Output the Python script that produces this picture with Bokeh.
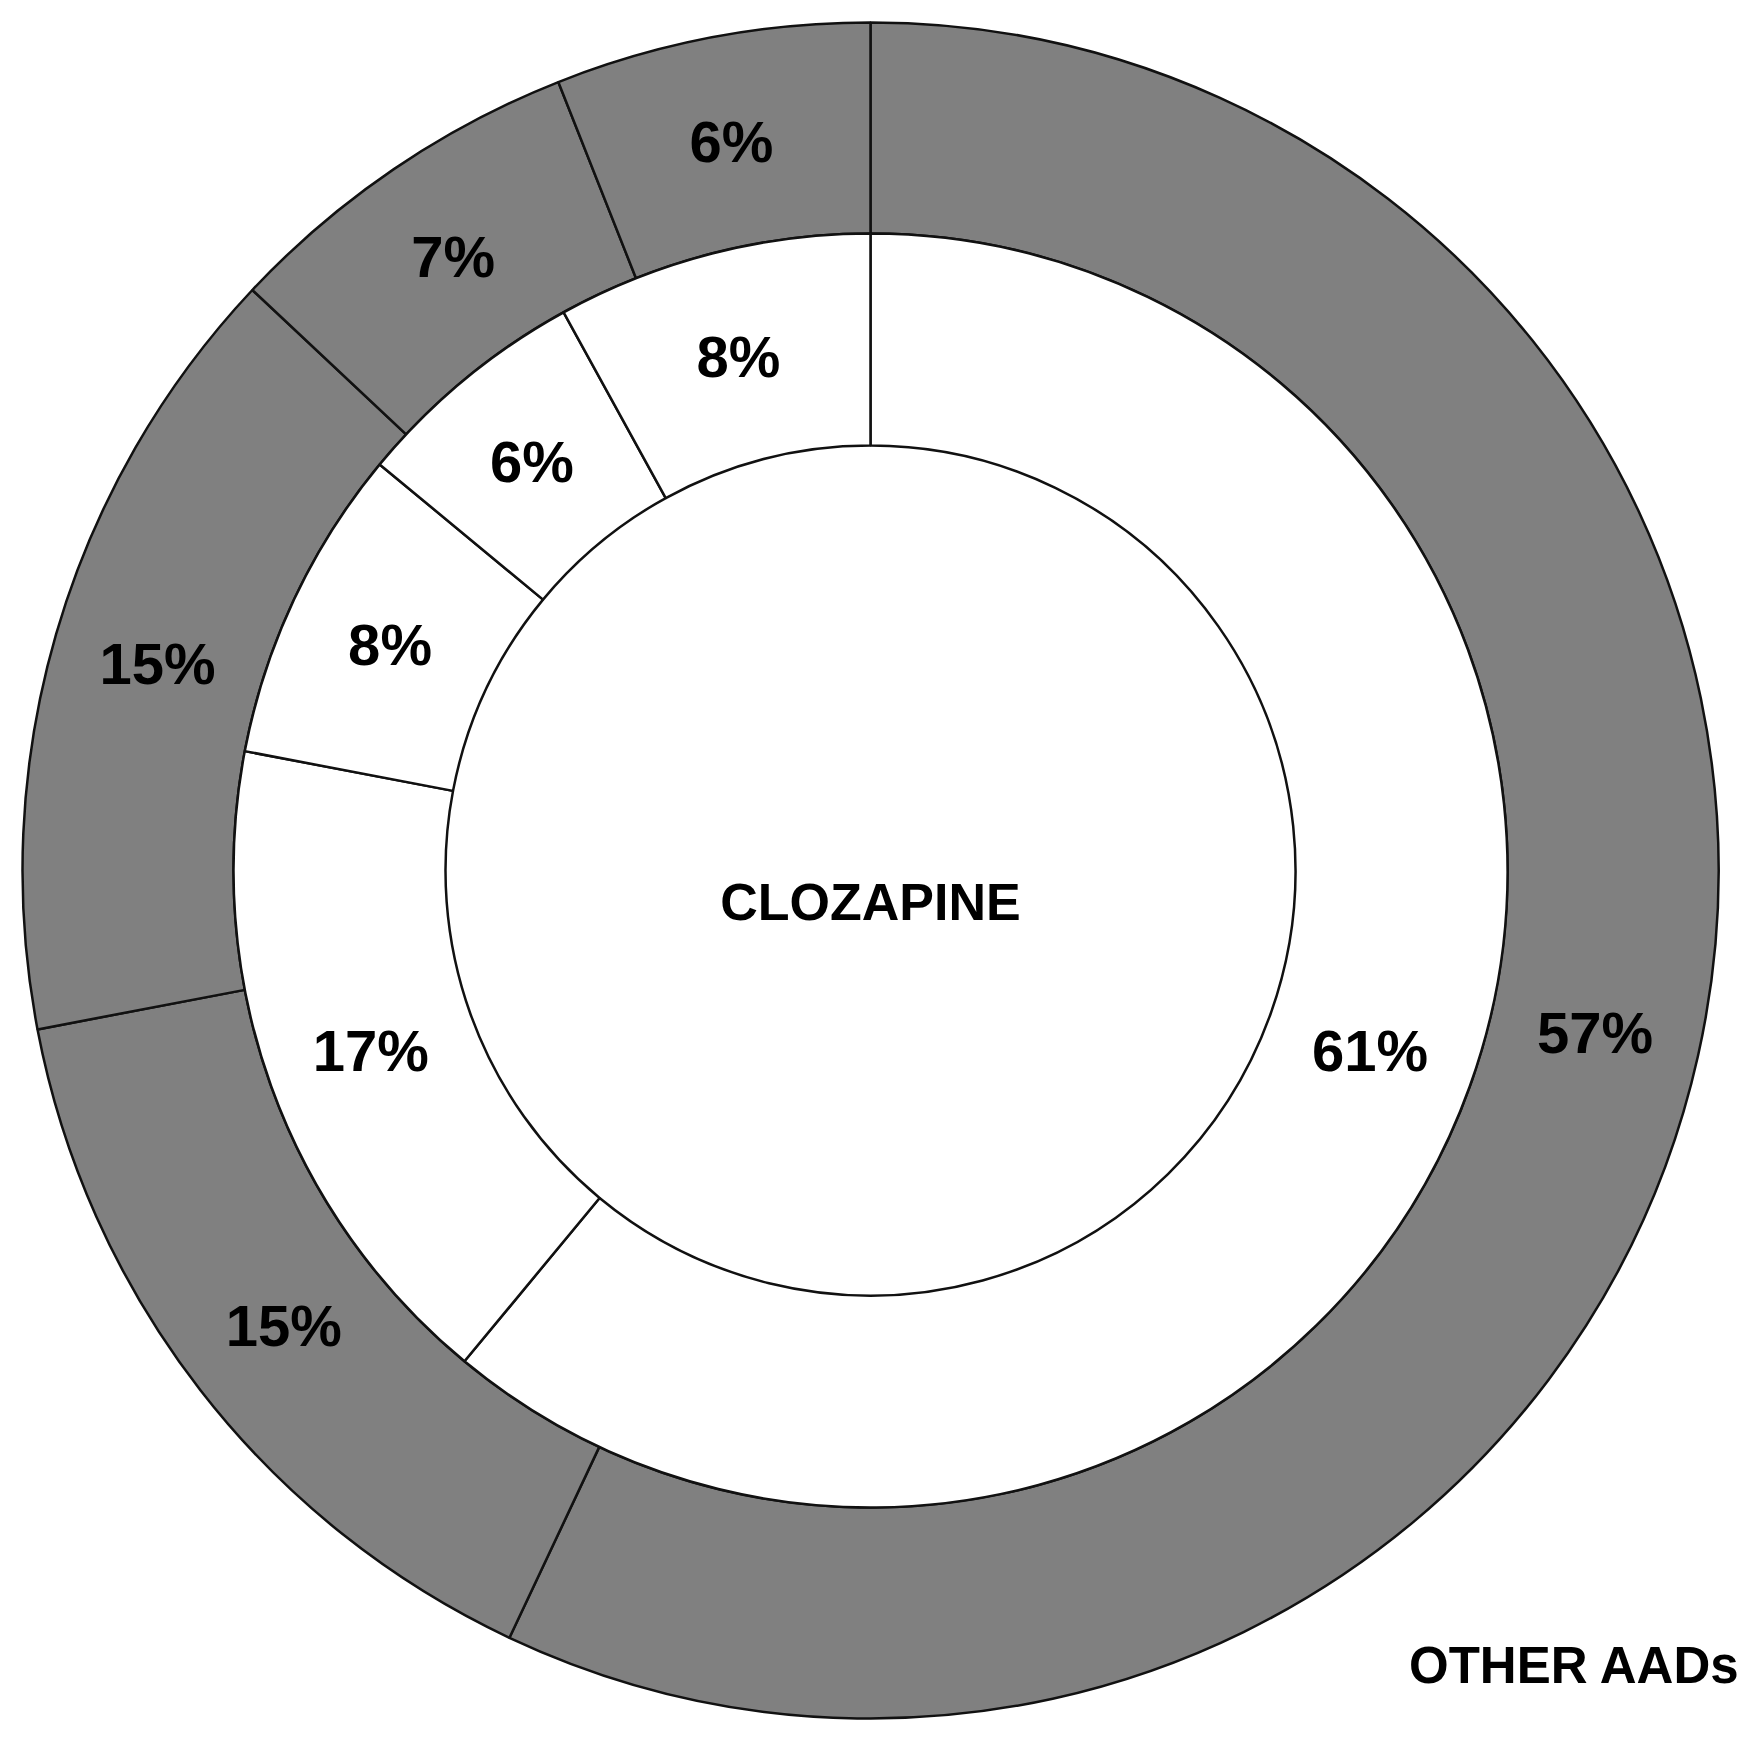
import numpy as np
from bokeh.plotting import figure
from bokeh.models import ColumnDataSource
from bokeh.core.properties import value
from bokeh.embed import file_html
from bokeh.resources import INLINE

# Data (clockwise from 12 o'clock)
outer_values = [57, 15, 15, 7, 6]     # OTHER AADs
inner_values = [61, 17, 8, 6, 8]      # CLOZAPINE
outer_labels = ["57%", "15%", "15%", "7%", "6%"]
inner_labels = ["61%", "17%", "8%", "6%", "8%"]
center_title = "CLOZAPINE"
outer_title = "OTHER AADs"

W, H = 1748, 1737
cx, cy = 870, H - 870
R_OUT, R_MID, R_IN = 848, 637, 425

p = figure(width=W, height=H, x_range=(0, W), y_range=(0, H),
           output_backend="svg", toolbar_location=None, min_border=0)
p.axis.visible = False
p.grid.visible = False
p.outline_line_color = None
p.background_fill_color = "white"
p.border_fill_color = "white"


def ring(values, labels, r0, r1, fill):
    v = np.array(values, dtype=float)
    frac = v / v.sum()
    cum_end = np.cumsum(frac)
    cum_start = cum_end - frac
    start = np.pi / 2 - cum_start * 2 * np.pi
    end = np.pi / 2 - cum_end * 2 * np.pi
    mid = np.pi / 2 - (cum_start + cum_end) / 2 * 2 * np.pi
    rm = (r0 + r1) / 2
    src = ColumnDataSource(dict(
        x=[cx] * len(v), y=[cy] * len(v), start=start, end=end,
        lx=cx + rm * np.cos(mid), ly=cy + rm * np.sin(mid), txt=labels))
    p.annular_wedge(x="x", y="y", inner_radius=r0, outer_radius=r1,
                    start_angle="start", end_angle="end", direction="clock",
                    fill_color=fill, line_color="#111111", line_width=2.5, source=src)
    p.text(x="lx", y="ly", text="txt", source=src, text_align="center",
           text_baseline="middle", text_font=value("Liberation Sans"),
           text_font_style="bold", text_font_size="58px", text_color="black")


ring(outer_values, outer_labels, R_MID, R_OUT, "#808080")
ring(inner_values, inner_labels, R_IN, R_MID, "white")

p.text(x=[cx], y=[cy - 31], text=[center_title], text_align="center",
       text_baseline="middle", text_font=value("Liberation Sans"),
       text_font_style="bold", text_font_size="52px", text_color="black")
p.text(x=[1740], y=[H - 1665], text=[outer_title], text_align="right",
       text_baseline="middle", text_font=value("Liberation Sans"),
       text_font_style="bold", text_font_size="51px", text_color="black")

open("out.html", "w").write(file_html(p, INLINE))
